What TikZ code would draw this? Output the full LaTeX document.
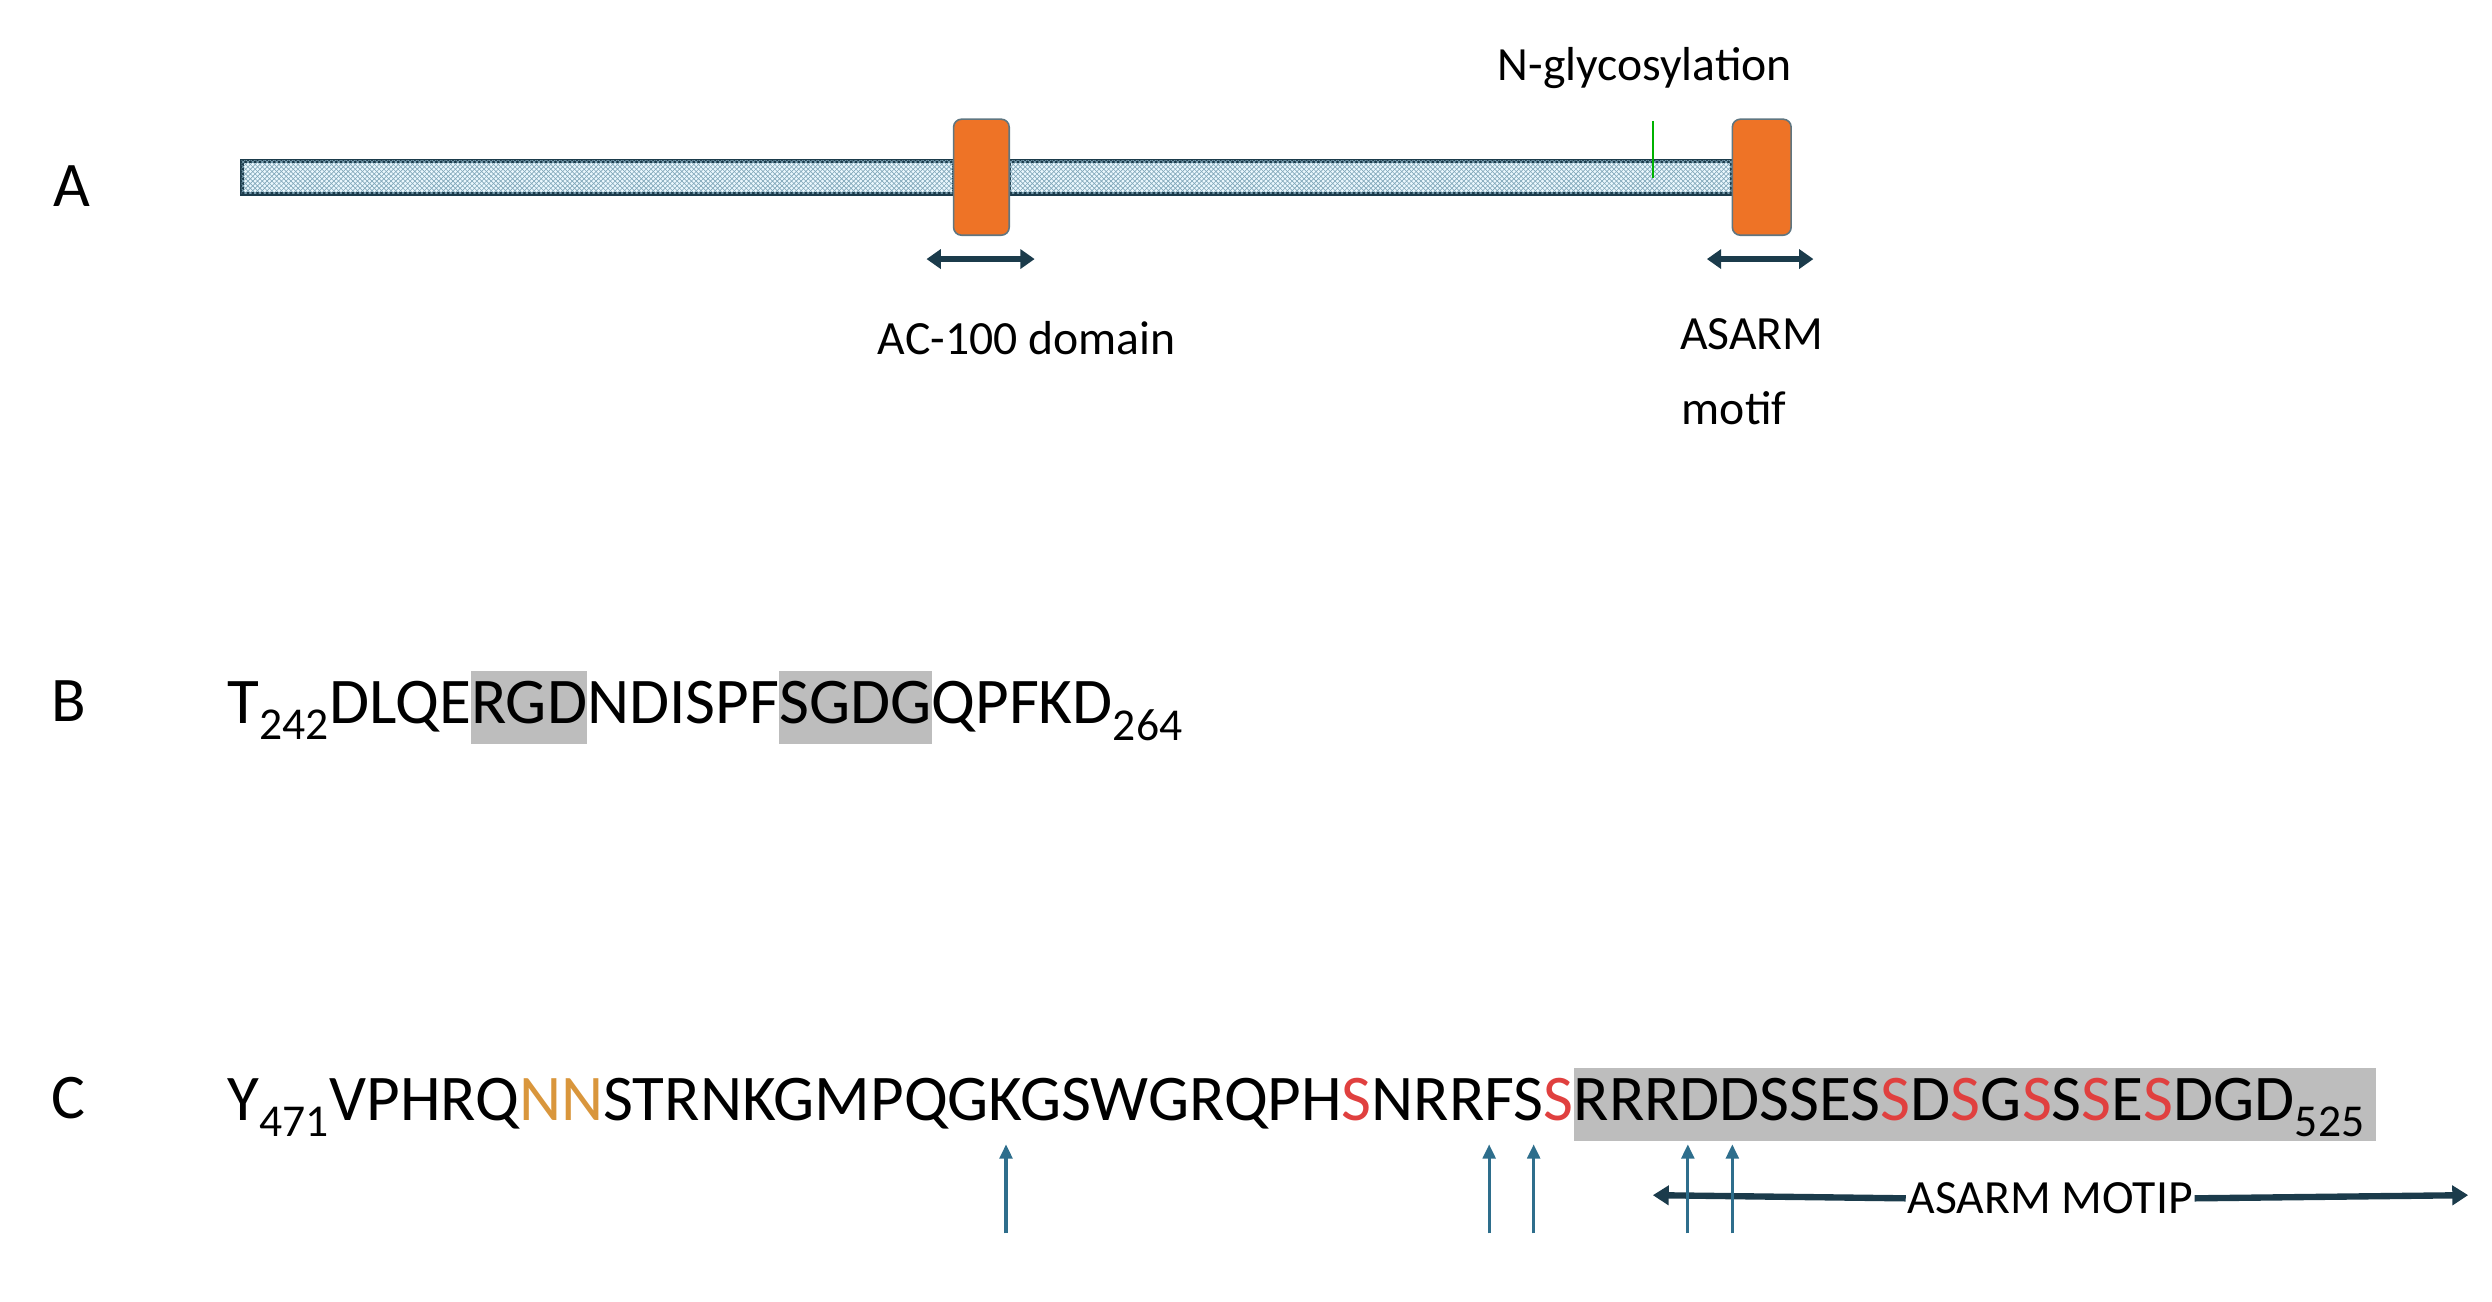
\documentclass[tikz,border=0pt]{standalone}
\usepackage{fontspec}
\setmainfont{Carlito}
\usetikzlibrary{arrows.meta,patterns}
\definecolor{navy}{HTML}{1B3B4B}
\definecolor{teal}{HTML}{2E6E8C}
\definecolor{orng}{HTML}{EE7326}
\definecolor{hlg}{HTML}{BDBDBD}
\definecolor{sred}{HTML}{E0403F}
\definecolor{nor}{HTML}{D9963C}
\newcommand{\hlx}[1]{{\setlength\fboxsep{0pt}\colorbox{hlg}{\rule[-0.32em]{0pt}{1.12em}#1}}}
\newcommand{\rs}{\textcolor{sred}{S}}
\begin{document}
\begin{tikzpicture}[x=1pt,y=-1pt,
  lbl/.style={font=\fontsize{30}{32}\selectfont,inner sep=0pt},
  seq/.style={font=\fontsize{41}{44}\selectfont,inner sep=0pt,anchor=base west},
  letter/.style={font=\fontsize{40}{44}\selectfont,inner sep=0pt},
  bar/.style={draw=navy,line width=2.5pt,fill=cyan!8,pattern color=navy!60,
    postaction={pattern=crosshatch,pattern color=teal!60}},
  box/.style={draw=navy!70,line width=1pt,fill=orng,rounded corners=5pt},
  dbl/.style={navy,line width=4pt,{Triangle[length=9pt,width=12pt]}-{Triangle[length=9pt,width=12pt]}},
  up/.style={teal,line width=2pt,-{Triangle[length=9pt,width=8pt]}}]
\useasboundingbox (0,0) rectangle (1568,819);
% Panel A
\node[letter] (la) at (45,117) {A};
\draw[bar] (152,101) rectangle (600,122);
\draw[bar] (635,101) rectangle (1090,122);
\node[box,minimum width=35pt,minimum height=73pt] (b1) at (617.5,111.5) {};
\node[box,minimum width=37pt,minimum height=73pt] (b2) at (1108.5,111.5) {};
\draw[green!70!black,line width=1.2pt] (1040,76) -- (1040,112);
\node[lbl] (ng) at (1035,43) {N-glycosylation};
\coordinate (a1l) at (583,163); \coordinate (a1r) at (651,163);
\coordinate (a2l) at (1074,163); \coordinate (a2r) at (1141,163);
\draw[dbl] (a1l) -- (a1r);
\draw[dbl] (a2l) -- (a2r);
\node[lbl] (ac) at (646,213) {AC-100 domain};
\node[lbl,anchor=west] (as) at (1057,210) {ASARM};
\node[lbl,anchor=west] (mo) at (1058,257) {motif};
% Panel B
\node[letter] (lb) at (43,441) {B};
\node[seq] (sb) at (143,455) {T\textsubscript{242}DLQE\hlx{RGD}NDISPF\hlx{SGDG}QPFKD\textsubscript{264}};
% Panel C
\node[letter] (lc) at (43,691) {C};
\node[seq] (sc) at (143,705) {Y\textsubscript{471}VPHRQ\textcolor{nor}{NN}STRNKGMPQGKGSWGRQPH\rs NRRFS\rs\hlx{RRRDDSSES\rs D\rs G\rs S\rs E\rs DGD\textsubscript{525}\,}};
\foreach \x/\n in {633/u1,937/u2,965/u3,1062/u4,1090/u5}{
  \coordinate (\n b) at (\x,776); \coordinate (\n t) at (\x,720);
}
\node[font=\fontsize{30}{32}\selectfont,inner sep=0pt,fill=white,inner xsep=1pt] (am) at (1290,754) {ASARM MOTIP};
\coordinate (aml) at (1040,752); \coordinate (amr) at (1553,752);
\draw[navy,line width=4pt,-{Triangle[length=10pt,width=12pt]}] (am.west) -- (aml);
\draw[navy,line width=4pt,-{Triangle[length=10pt,width=12pt]}] (am.east) -- (amr);
\foreach \n in {u1,u2,u3,u4,u5}{\draw[up] (\n b) -- (\n t);}
\end{tikzpicture}
\end{document}
